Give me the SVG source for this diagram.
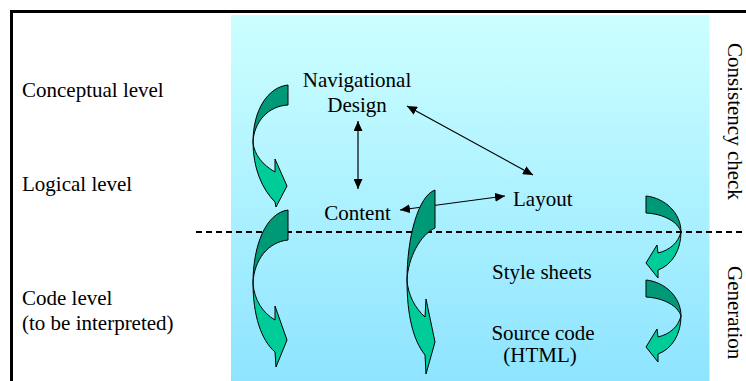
<svg xmlns="http://www.w3.org/2000/svg" width="746" height="381" viewBox="0 0 746 381">
  <defs>
    <linearGradient id="bg" x1="0" y1="0" x2="0" y2="1">
      <stop offset="0" stop-color="#CCFFFF"/>
      <stop offset="1" stop-color="#8EE4FF"/>
    </linearGradient>
    <marker id="head" viewBox="0 0 10 9" markerWidth="10" markerHeight="9" refX="10" refY="4.5" markerUnits="userSpaceOnUse" orient="auto-start-reverse">
      <path d="M0,0 L10,4.5 L0,9 Z" fill="#000"/>
    </marker>
    <style>
      .lbl { font-family: "Liberation Serif", "Times New Roman", serif; font-size: 21px; fill: #000; }
      .link { stroke: #000; stroke-width: 1.2; fill: none; marker-start: url(#head); marker-end: url(#head); }
      .back { fill: #009977; stroke: #000; stroke-width: 1; stroke-linejoin: round; }
      .front { fill: #00CC99; stroke: #000; stroke-width: 1; stroke-linejoin: round; }
    </style>
  </defs>

  <!-- shaded working area -->
  <rect x="231" y="15" width="478.5" height="366" fill="url(#bg)"/>

  <!-- outer frame (top and left edges) -->
  <path d="M11.5,381 L11.5,11.5 L746,11.5" fill="none" stroke="#000" stroke-width="3"/>

  <!-- boundary between design levels and code level -->
  <line x1="196" y1="232" x2="742" y2="232" stroke="#000" stroke-width="2" stroke-dasharray="6 4"/>

  <!-- connectors between the design artefacts -->
  <g id="connectors">
    <line class="link" x1="358" y1="121" x2="358" y2="189"/>
    <line class="link" x1="407" y1="106" x2="533" y2="175"/>
    <line class="link" x1="400" y1="210" x2="505" y2="196"/>
  </g>

  <!-- curved process arrows -->
  <g id="refine-1">
    <path class="back" d="M288,85 C268,87 253,110 253,142 C254,122 268,106 288,105 Z"/>
    <path class="front" d="M253,142 C253,168 262,189 275,202 L276,207 L287,186 L275,159 L275,172 C263,165 254,155 253,142 Z"/>
  </g>
  <g id="refine-2">
    <path class="back" d="M288,210 C266,213 253,245 253,283 C254,260 268,242 288,240 Z"/>
    <path class="front" d="M253,283 C253,315 261,340 275,352 L276,367 L287,340 L275,306 L275,320 C263,313 254,300 253,283 Z"/>
  </g>
  <g id="refine-3">
    <path class="back" d="M435,190 C418,196 407,238 407,280 C408,258 420,235 435,228 Z"/>
    <path class="front" d="M407,280 C407,315 413,340 425,355 L426,374 L435,342 L426,299 L425,317 C415,308 408,295 407,280 Z"/>
  </g>
  <g id="generate-1">
    <path class="back" d="M646,196 C665,198 681,213 681,232 C678,222 664,214 646,213 Z"/>
    <path class="front" d="M681,232 C681,250 672,265 658,270 L658,278 L646,263 L657,245 L658,253 C670,250 678,243 681,232 Z"/>
  </g>
  <g id="generate-2" transform="translate(0,84)">
    <path class="back" d="M646,196 C665,198 681,213 681,232 C678,222 664,214 646,213 Z"/>
    <path class="front" d="M681,232 C681,250 672,265 658,270 L658,278 L646,263 L657,245 L658,253 C670,250 678,243 681,232 Z"/>
  </g>

  <!-- level labels -->
  <g id="level-conceptual"><text class="lbl" x="22" y="97">Conceptual level</text></g>
  <g id="level-logical"><text class="lbl" x="22" y="191">Logical level</text></g>
  <g id="level-code">
    <text class="lbl" x="22" y="305">Code level</text>
    <text class="lbl" x="22" y="330">(to be interpreted)</text>
  </g>

  <!-- artefacts -->
  <g id="navigational-design">
    <text class="lbl" x="357" y="87" text-anchor="middle">Navigational</text>
    <text class="lbl" x="357" y="112" text-anchor="middle">Design</text>
  </g>
  <g id="content"><text class="lbl" x="357.5" y="220" text-anchor="middle">Content</text></g>
  <g id="layout"><text class="lbl" x="513" y="206">Layout</text></g>
  <g id="style-sheets"><text class="lbl" x="492" y="279">Style sheets</text></g>
  <g id="source-code">
    <text class="lbl" x="543" y="340" text-anchor="middle">Source code</text>
    <text class="lbl" x="540" y="362" text-anchor="middle">(HTML)</text>
  </g>

  <!-- side captions -->
  <g id="consistency-check"><text class="lbl" transform="translate(728,43) rotate(90)">Consistency check</text></g>
  <g id="generation"><text class="lbl" transform="translate(728,266) rotate(90)">Generation</text></g>
</svg>
